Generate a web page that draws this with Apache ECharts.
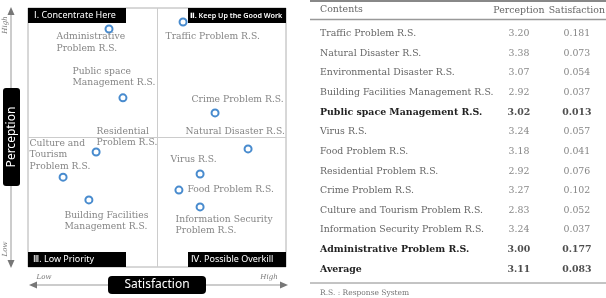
<!DOCTYPE html>
<html><head><meta charset="utf-8">
<script src="https://cdn.jsdelivr.net/npm/echarts@6/dist/echarts.min.js"></script>
<style>html,body{margin:0;padding:0;background:#fff}#c{width:606px;height:298px}</style>
</head><body><div id="c"></div>
<script>
// ---- IPA matrix (schematic positions, 0-100 scale) ----
const ipaNames = ['Administrative\nProblem R.S.', 'Traffic Problem R.S.', 'Public space\nManagement R.S.', 'Crime Problem R.S.', 'Natural Disaster R.S.', 'Residential\nProblem R.S.', 'Culture and\nTourism\nProblem R.S.', 'Building Facilities\nManagement R.S.', 'Virus R.S.', 'Food Problem R.S.', 'Information Security\nProblem R.S.'];
const ipaSatisfaction = [31.4, 60.1, 36.8, 72.5, 85.3, 26.4, 13.6, 23.6, 66.7, 58.5, 66.7];
const ipaPerception  = [91.9, 94.6, 65.3, 59.5, 45.6, 44.4, 34.7, 25.9, 35.9, 29.7, 23.2];
const quadrantMid = 50;
const quadrantTitles = ['\u2160. Concentrate Here', '\u2161. Keep Up the Good Work', '\u2162. Low Priority', '\u2163. Possible Overkill'];

// ---- Table ----
const tableContents = ['Traffic Problem R.S.', 'Natural Disaster R.S.', 'Environmental Disaster R.S.', 'Building Facilities Management R.S.', 'Public space Management R.S.', 'Virus R.S.', 'Food Problem R.S.', 'Residential Problem R.S.', 'Crime Problem R.S.', 'Culture and Tourism Problem R.S.', 'Information Security Problem R.S.', 'Administrative Problem R.S.', 'Average'];
const tablePerception = [3.20, 3.38, 3.07, 2.92, 3.02, 3.24, 3.18, 2.92, 3.27, 2.83, 3.24, 3.00, 3.11];
const tableSatisfaction = [0.181, 0.073, 0.054, 0.037, 0.013, 0.057, 0.041, 0.076, 0.102, 0.052, 0.037, 0.177, 0.083];
const tableColumns = ['Perception', 'Satisfaction'];
const boldRows = ['Public space Management R.S.', 'Administrative Problem R.S.', 'Average'];

// label placement (style only): [dx, dy] from symbol box top-left
const labelPos = [[-48, 6.5], [-13, 13], [-46, -28], [-19, -15], [-58, -19], [5, -22], [-29, -35], [-20, 14], [-25, -16], [13, -2], [-20, 11]];

const serif = '"DejaVu Serif", "Liberation Serif", serif';
const sans = '"Noto Sans", "DejaVu Sans", sans-serif';
const tblSize = 9.4;

const ipaData = ipaNames.map((n, i) => ({
  name: n,
  value: [ipaSatisfaction[i], ipaPerception[i]],
  label: { position: labelPos[i] }
}));

const tableData = [];
tableContents.forEach((c, i) => {
  const b = boldRows.includes(c);
  tableData.push({ value: [0, i], text: tablePerception[i].toFixed(2), label: { fontWeight: b ? 'bold' : 'normal', color: b ? '#222' : '#666' } });
  tableData.push({ value: [1, i], text: tableSatisfaction[i].toFixed(3), label: { fontWeight: b ? 'bold' : 'normal', color: b ? '#222' : '#666' } });
});

const chart = echarts.init(document.getElementById('c'), null, { renderer: 'canvas' });

function box(x, y, w, h, r) { return { type: 'rect', shape: { x, y, width: w, height: h, r }, style: { fill: '#000' }, z: 10 }; }
function txt(x, y, t, o) { return { type: 'text', x, y, style: Object.assign({ text: t, fill: '#fff', font: '9px ' + sans, verticalAlign: 'middle' }, o || {}), z: 11 }; }
function line(x1, y1, x2, y2, c, w) { return { type: 'line', shape: { x1, y1, x2, y2 }, style: { stroke: c, lineWidth: w }, z: 5 }; }
function tri(points, c) { return { type: 'polygon', shape: { points }, style: { fill: c }, z: 5 }; }

chart.setOption({
  animation: false,
  grid: [
    { left: 28, top: 8, width: 258, height: 259, show: true, borderColor: '#b0b0b0', borderWidth: 1, backgroundColor: '#fff' },
    { left: 490, top: 24, width: 124, height: 255 }
  ],
  xAxis: [
    { gridIndex: 0, type: 'value', min: 0, max: 100, show: false },
    { gridIndex: 1, type: 'category', data: tableColumns, position: 'top', axisLine: { show: false }, axisTick: { show: false },
      axisLabel: { interval: 0, hideOverlap: false, margin: 9, fontFamily: serif, fontSize: tblSize, color: '#666' } }
  ],
  yAxis: [
    { gridIndex: 0, type: 'value', min: 0, max: 100, show: false },
    { gridIndex: 1, type: 'category', inverse: true, axisLine: { show: false }, axisTick: { show: false },
      data: tableContents.map(c => boldRows.includes(c) ? { value: c, textStyle: { fontWeight: 'bold', color: '#222', align: 'left' } } : c),
      axisLabel: { interval: 0, align: 'left', margin: 170, fontFamily: serif, fontSize: tblSize, color: '#666' } }
  ],
  series: [
    {
      type: 'scatter', xAxisIndex: 0, yAxisIndex: 0, data: ipaData,
      symbol: 'circle', symbolSize: 7,
      itemStyle: { color: '#fff', borderColor: '#1a6ec2', borderWidth: 2 },
      label: { show: true, formatter: p => p.name, fontFamily: serif, fontSize: 9.2, color: '#666', lineHeight: 11.5, align: 'left', verticalAlign: 'top' },
      markLine: {
        silent: true, symbol: 'none', label: { show: false },
        lineStyle: { color: '#ccc', type: 'solid', width: 1 },
        data: [{ xAxis: quadrantMid }, { yAxis: quadrantMid }]
      }
    },
    {
      type: 'scatter', xAxisIndex: 1, yAxisIndex: 1, data: tableData, symbolSize: 0,
      label: { show: true, position: 'inside', formatter: p => p.data.text, fontFamily: serif, fontSize: tblSize, color: '#666' }
    }
  ],
  graphic: [
    // quadrant titles
    box(28, 8, 98, 15, 0), txt(34, 15.5, quadrantTitles[0]),
    box(188, 8, 98, 15, 0), txt(190, 15.5, quadrantTitles[1], { font: '600 7.2px ' + sans }),
    box(28, 252, 98, 15, 0), txt(33, 259.5, quadrantTitles[2]),
    box(188, 252, 98, 15, 0), txt(191, 259.5, quadrantTitles[3]),
    // vertical axis annotation
    line(11, 14, 11, 262, '#999', 1),
    tri([[11, 7], [7.5, 15], [14.5, 15]], '#777'),
    tri([[11, 268], [7.5, 260], [14.5, 260]], '#777'),
    { type: 'rect', shape: { x: 3, y: 88, width: 17, height: 98, r: 3 }, style: { fill: '#000' }, z: 10 },
    { type: 'text', x: 11.5, y: 137, rotation: Math.PI / 2, style: { text: 'Perception', fill: '#fff', font: '12px ' + sans, align: 'center', verticalAlign: 'middle' }, z: 11 },
    { type: 'text', x: 5, y: 25, rotation: Math.PI / 2, style: { text: 'High', fill: '#777', font: 'italic 7px ' + serif, align: 'center', verticalAlign: 'middle' }, z: 11 },
    { type: 'text', x: 5, y: 249, rotation: Math.PI / 2, style: { text: 'Low', fill: '#777', font: 'italic 7px ' + serif, align: 'center', verticalAlign: 'middle' }, z: 11 },
    // horizontal axis annotation
    line(35, 285, 282, 285, '#999', 1),
    tri([[29, 285], [37, 281.5], [37, 288.5]], '#777'),
    tri([[288, 285], [280, 281.5], [280, 288.5]], '#777'),
    { type: 'rect', shape: { x: 108, y: 276, width: 98, height: 18, r: 4 }, style: { fill: '#000' }, z: 10 },
    { type: 'text', x: 157, y: 285, style: { text: 'Satisfaction', fill: '#fff', font: '12px ' + sans, align: 'center', verticalAlign: 'middle' }, z: 11 },
    { type: 'text', x: 44, y: 277, style: { text: 'Low', fill: '#777', font: 'italic 7px ' + serif, align: 'center', verticalAlign: 'middle' }, z: 11 },
    { type: 'text', x: 269, y: 277, style: { text: 'High', fill: '#777', font: 'italic 7px ' + serif, align: 'center', verticalAlign: 'middle' }, z: 11 },
    // table rules and texts
    line(310, 1, 606, 1, '#888', 2),
    line(310, 19.5, 606, 19.5, '#999', 1.5),
    line(310, 283, 606, 283, '#888', 1),
    { type: 'text', x: 320, y: 10, style: { text: 'Contents', fill: '#666', font: tblSize + 'px ' + serif, verticalAlign: 'middle' }, z: 11 },
    { type: 'text', x: 320, y: 293, style: { text: 'R.S. : Response System', fill: '#777', font: '7.5px ' + serif, verticalAlign: 'middle' }, z: 11 }
  ]
});
</script></body></html>
